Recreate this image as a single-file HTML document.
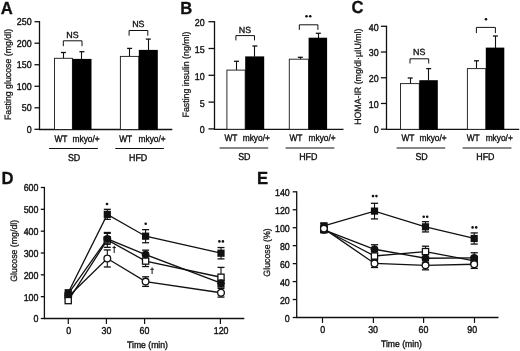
<!DOCTYPE html>
<html><head><meta charset="utf-8"><style>
html,body{margin:0;padding:0;background:#fff;width:520px;height:351px;overflow:hidden}
svg{display:block;will-change:transform}
text{font-family:"Liberation Sans",sans-serif;fill:#111;text-rendering:geometricPrecision}
</style></head><body>
<svg width="520" height="351" viewBox="0 0 520 351">
<rect width="520" height="351" fill="#fff"/>
<line x1="39.5" y1="21.1" x2="39.5" y2="129.9" stroke="#111" stroke-width="1.3"/>
<line x1="34.5" y1="129.3" x2="39.5" y2="129.3" stroke="#111" stroke-width="1.3"/>
<text transform="translate(31.6 133) scale(1 1.12)" text-anchor="end" font-size="8.9" font-weight="normal" stroke="#111" stroke-width="0.35">0</text>
<line x1="34.5" y1="107.78" x2="39.5" y2="107.78" stroke="#111" stroke-width="1.3"/>
<text transform="translate(31.6 111.48) scale(1 1.12)" text-anchor="end" font-size="8.9" font-weight="normal" stroke="#111" stroke-width="0.35">50</text>
<line x1="34.5" y1="86.26" x2="39.5" y2="86.26" stroke="#111" stroke-width="1.3"/>
<text transform="translate(31.6 89.96) scale(1 1.12)" text-anchor="end" font-size="8.9" font-weight="normal" stroke="#111" stroke-width="0.35">100</text>
<line x1="34.5" y1="64.74" x2="39.5" y2="64.74" stroke="#111" stroke-width="1.3"/>
<text transform="translate(31.6 68.44) scale(1 1.12)" text-anchor="end" font-size="8.9" font-weight="normal" stroke="#111" stroke-width="0.35">150</text>
<line x1="34.5" y1="43.22" x2="39.5" y2="43.22" stroke="#111" stroke-width="1.3"/>
<text transform="translate(31.6 46.92) scale(1 1.12)" text-anchor="end" font-size="8.9" font-weight="normal" stroke="#111" stroke-width="0.35">200</text>
<line x1="34.5" y1="21.7" x2="39.5" y2="21.7" stroke="#111" stroke-width="1.3"/>
<text transform="translate(31.6 25.4) scale(1 1.12)" text-anchor="end" font-size="8.9" font-weight="normal" stroke="#111" stroke-width="0.35">250</text>
<line x1="38.9" y1="129.5" x2="172.3" y2="129.5" stroke="#111" stroke-width="1.35"/>
<line x1="63.5" y1="52.5" x2="63.5" y2="58.3" stroke="#111" stroke-width="1.1"/>
<line x1="60.95" y1="52.5" x2="65.95" y2="52.5" stroke="#111" stroke-width="1.3"/>
<rect x="54.5" y="58.3" width="17.9" height="71.2" fill="#fff" stroke="#222" stroke-width="0.95"/>
<line x1="81.5" y1="51.7" x2="81.5" y2="59.2" stroke="#111" stroke-width="1.1"/>
<line x1="79.4" y1="51.7" x2="84.4" y2="51.7" stroke="#111" stroke-width="1.3"/>
<rect x="72.3" y="58.9" width="19.2" height="70.6" fill="#000"/>
<line x1="129.5" y1="48.4" x2="129.5" y2="56.4" stroke="#111" stroke-width="1.1"/>
<line x1="127.1" y1="48.4" x2="132.1" y2="48.4" stroke="#111" stroke-width="1.3"/>
<rect x="120.4" y="56.4" width="18.4" height="73.1" fill="#fff" stroke="#222" stroke-width="0.95"/>
<line x1="148.5" y1="39.1" x2="148.5" y2="50.2" stroke="#111" stroke-width="1.1"/>
<line x1="145.8" y1="39.1" x2="150.8" y2="39.1" stroke="#111" stroke-width="1.3"/>
<rect x="138.8" y="49.9" width="19" height="79.6" fill="#000"/>
<path d="M63.3 46.2V40.8H82V46.2" fill="none" stroke="#111" stroke-width="1"/>
<path d="M129.1 35.7V30.5H147.8V35.7" fill="none" stroke="#111" stroke-width="1"/>
<text transform="translate(72.5 37.8) scale(1 1)" text-anchor="middle" font-size="8.9" font-weight="normal" stroke="#111" stroke-width="0.35">NS</text>
<text transform="translate(138.35 26.8) scale(1 1)" text-anchor="middle" font-size="8.9" font-weight="normal" stroke="#111" stroke-width="0.35">NS</text>
<text transform="translate(60.9 141.6) scale(0.94 1.06)" text-anchor="middle" font-size="8.9" font-weight="normal" stroke="#111" stroke-width="0.35">WT</text>
<text transform="translate(86.1 141.6) scale(0.94 1.06)" text-anchor="middle" font-size="8.9" font-weight="normal" stroke="#111" stroke-width="0.35">mkyo/+</text>
<text transform="translate(125.7 141.6) scale(0.94 1.06)" text-anchor="middle" font-size="8.9" font-weight="normal" stroke="#111" stroke-width="0.35">WT</text>
<text transform="translate(152.1 141.6) scale(0.94 1.06)" text-anchor="middle" font-size="8.9" font-weight="normal" stroke="#111" stroke-width="0.35">mkyo/+</text>
<line x1="49.1" y1="148.5" x2="97.9" y2="148.5" stroke="#111" stroke-width="1.05"/>
<line x1="115.3" y1="148.5" x2="163.9" y2="148.5" stroke="#111" stroke-width="1.05"/>
<text transform="translate(74.05 161) scale(1 1.12)" text-anchor="middle" font-size="8.9" font-weight="normal" stroke="#111" stroke-width="0.35">SD</text>
<text transform="translate(138.1 161) scale(1 1.12)" text-anchor="middle" font-size="8.9" font-weight="normal" stroke="#111" stroke-width="0.35">HFD</text>
<text transform="translate(10.7 74.5) rotate(-90) scale(0.955 1)" text-anchor="middle" font-size="9.2" stroke="#111" stroke-width="0.25">Fasting glucose (mg/dl)</text>
<text transform="translate(0.8 14) scale(1.04 1.09)" text-anchor="start" font-size="16" font-weight="bold" stroke="#111" stroke-width="0.3">A</text>
<line x1="214.5" y1="21.1" x2="214.5" y2="129.5" stroke="#111" stroke-width="1.3"/>
<line x1="208.5" y1="128.9" x2="214.5" y2="128.9" stroke="#111" stroke-width="1.3"/>
<text transform="translate(204.6 133.3) scale(1 1.12)" text-anchor="end" font-size="8.9" font-weight="normal" stroke="#111" stroke-width="0.35">0</text>
<line x1="208.5" y1="102.1" x2="214.5" y2="102.1" stroke="#111" stroke-width="1.3"/>
<text transform="translate(204.6 106.5) scale(1 1.12)" text-anchor="end" font-size="8.9" font-weight="normal" stroke="#111" stroke-width="0.35">5</text>
<line x1="208.5" y1="75.3" x2="214.5" y2="75.3" stroke="#111" stroke-width="1.3"/>
<text transform="translate(204.6 79.7) scale(1 1.12)" text-anchor="end" font-size="8.9" font-weight="normal" stroke="#111" stroke-width="0.35">10</text>
<line x1="208.5" y1="48.5" x2="214.5" y2="48.5" stroke="#111" stroke-width="1.3"/>
<text transform="translate(204.6 52.9) scale(1 1.12)" text-anchor="end" font-size="8.9" font-weight="normal" stroke="#111" stroke-width="0.35">15</text>
<line x1="208.5" y1="21.7" x2="214.5" y2="21.7" stroke="#111" stroke-width="1.3"/>
<text transform="translate(204.6 26.1) scale(1 1.12)" text-anchor="end" font-size="8.9" font-weight="normal" stroke="#111" stroke-width="0.35">20</text>
<line x1="213.9" y1="129.3" x2="343.5" y2="129.3" stroke="#111" stroke-width="1.35"/>
<line x1="236.5" y1="61.3" x2="236.5" y2="70.1" stroke="#111" stroke-width="1.1"/>
<line x1="234" y1="61.3" x2="239" y2="61.3" stroke="#111" stroke-width="1.3"/>
<rect x="226.9" y="70.1" width="18.3" height="59.2" fill="#fff" stroke="#222" stroke-width="0.95"/>
<line x1="254.5" y1="46" x2="254.5" y2="56.7" stroke="#111" stroke-width="1.1"/>
<line x1="252.4" y1="46" x2="257.4" y2="46" stroke="#111" stroke-width="1.3"/>
<rect x="245.2" y="56.4" width="19" height="72.9" fill="#000"/>
<line x1="300.5" y1="57.3" x2="300.5" y2="59.2" stroke="#111" stroke-width="1.1"/>
<line x1="297.8" y1="57.3" x2="302.8" y2="57.3" stroke="#111" stroke-width="1.3"/>
<rect x="289.3" y="59.2" width="19.3" height="70.1" fill="#fff" stroke="#222" stroke-width="0.95"/>
<line x1="318.5" y1="33.3" x2="318.5" y2="38" stroke="#111" stroke-width="1.1"/>
<line x1="315.8" y1="33.3" x2="320.8" y2="33.3" stroke="#111" stroke-width="1.3"/>
<rect x="308.6" y="37.7" width="18.5" height="91.6" fill="#000"/>
<path d="M235.9 40.4V35.6H254.5V40.4" fill="none" stroke="#111" stroke-width="1"/>
<path d="M299.3 29.9V24.8H317.9V29.9" fill="none" stroke="#111" stroke-width="1"/>
<text transform="translate(245 32.5) scale(1 1)" text-anchor="middle" font-size="8.9" font-weight="normal" stroke="#111" stroke-width="0.35">NS</text>
<circle cx="306.5" cy="16.2" r="1.3" fill="#111"/>
<circle cx="310.2" cy="16.2" r="1.3" fill="#111"/>
<text transform="translate(230.9 140.9) scale(0.94 1.06)" text-anchor="middle" font-size="8.9" font-weight="normal" stroke="#111" stroke-width="0.35">WT</text>
<text transform="translate(256.25 140.9) scale(0.94 1.06)" text-anchor="middle" font-size="8.9" font-weight="normal" stroke="#111" stroke-width="0.35">mkyo/+</text>
<text transform="translate(295.9 140.9) scale(0.94 1.06)" text-anchor="middle" font-size="8.9" font-weight="normal" stroke="#111" stroke-width="0.35">WT</text>
<text transform="translate(322.1 140.9) scale(0.94 1.06)" text-anchor="middle" font-size="8.9" font-weight="normal" stroke="#111" stroke-width="0.35">mkyo/+</text>
<line x1="219.6" y1="148" x2="268.2" y2="148" stroke="#111" stroke-width="1.05"/>
<line x1="285.6" y1="148" x2="334.4" y2="148" stroke="#111" stroke-width="1.05"/>
<text transform="translate(244.3 159.9) scale(1 1.12)" text-anchor="middle" font-size="8.9" font-weight="normal" stroke="#111" stroke-width="0.35">SD</text>
<text transform="translate(308.3 159.9) scale(1 1.12)" text-anchor="middle" font-size="8.9" font-weight="normal" stroke="#111" stroke-width="0.35">HFD</text>
<text transform="translate(189.2 74.5) rotate(-90) scale(0.955 1)" text-anchor="middle" font-size="9.2" stroke="#111" stroke-width="0.25">Fasting insulin (ng/ml)</text>
<text transform="translate(180.2 14) scale(1.04 1.09)" text-anchor="start" font-size="16" font-weight="bold" stroke="#111" stroke-width="0.3">B</text>
<line x1="386.5" y1="25.7" x2="386.5" y2="129.8" stroke="#111" stroke-width="1.3"/>
<line x1="380.9" y1="129.2" x2="386.5" y2="129.2" stroke="#111" stroke-width="1.3"/>
<text transform="translate(378.6 133.4) scale(1 1.12)" text-anchor="end" font-size="8.9" font-weight="normal" stroke="#111" stroke-width="0.35">0</text>
<line x1="380.9" y1="103.47" x2="386.5" y2="103.47" stroke="#111" stroke-width="1.3"/>
<text transform="translate(378.6 107.67) scale(1 1.12)" text-anchor="end" font-size="8.9" font-weight="normal" stroke="#111" stroke-width="0.35">10</text>
<line x1="380.9" y1="77.75" x2="386.5" y2="77.75" stroke="#111" stroke-width="1.3"/>
<text transform="translate(378.6 81.95) scale(1 1.12)" text-anchor="end" font-size="8.9" font-weight="normal" stroke="#111" stroke-width="0.35">20</text>
<line x1="380.9" y1="52.02" x2="386.5" y2="52.02" stroke="#111" stroke-width="1.3"/>
<text transform="translate(378.6 56.22) scale(1 1.12)" text-anchor="end" font-size="8.9" font-weight="normal" stroke="#111" stroke-width="0.35">30</text>
<line x1="380.9" y1="26.3" x2="386.5" y2="26.3" stroke="#111" stroke-width="1.3"/>
<text transform="translate(378.6 30.5) scale(1 1.12)" text-anchor="end" font-size="8.9" font-weight="normal" stroke="#111" stroke-width="0.35">40</text>
<line x1="385.9" y1="129.35" x2="519.2" y2="129.35" stroke="#111" stroke-width="1.35"/>
<line x1="410.5" y1="78" x2="410.5" y2="83.6" stroke="#111" stroke-width="1.1"/>
<line x1="407.7" y1="78" x2="412.7" y2="78" stroke="#111" stroke-width="1.3"/>
<rect x="400.5" y="83.6" width="18.8" height="45.75" fill="#fff" stroke="#222" stroke-width="0.95"/>
<line x1="428.5" y1="68.6" x2="428.5" y2="80.5" stroke="#111" stroke-width="1.1"/>
<line x1="426.2" y1="68.6" x2="431.2" y2="68.6" stroke="#111" stroke-width="1.3"/>
<rect x="419.3" y="80.2" width="18.5" height="49.15" fill="#000"/>
<line x1="476.5" y1="60.8" x2="476.5" y2="68.6" stroke="#111" stroke-width="1.1"/>
<line x1="474" y1="60.8" x2="479" y2="60.8" stroke="#111" stroke-width="1.3"/>
<rect x="467.4" y="68.6" width="18.4" height="60.75" fill="#fff" stroke="#222" stroke-width="0.95"/>
<line x1="495.5" y1="36" x2="495.5" y2="47.9" stroke="#111" stroke-width="1.1"/>
<line x1="492.9" y1="36" x2="497.9" y2="36" stroke="#111" stroke-width="1.3"/>
<rect x="485.8" y="47.6" width="18.5" height="81.75" fill="#000"/>
<path d="M410 63.5V58.8H428.7V63.5" fill="none" stroke="#111" stroke-width="1"/>
<path d="M476.4 33.1V27.4H495.4V33.1" fill="none" stroke="#111" stroke-width="1"/>
<text transform="translate(419.2 54.9) scale(1 1)" text-anchor="middle" font-size="8.9" font-weight="normal" stroke="#111" stroke-width="0.35">NS</text>
<circle cx="486" cy="19.2" r="1.3" fill="#111"/>
<text transform="translate(407.9 141) scale(0.94 1.06)" text-anchor="middle" font-size="8.9" font-weight="normal" stroke="#111" stroke-width="0.35">WT</text>
<text transform="translate(433.1 141) scale(0.94 1.06)" text-anchor="middle" font-size="8.9" font-weight="normal" stroke="#111" stroke-width="0.35">mkyo/+</text>
<text transform="translate(473.2 141) scale(0.94 1.06)" text-anchor="middle" font-size="8.9" font-weight="normal" stroke="#111" stroke-width="0.35">WT</text>
<text transform="translate(499.2 141) scale(0.94 1.06)" text-anchor="middle" font-size="8.9" font-weight="normal" stroke="#111" stroke-width="0.35">mkyo/+</text>
<line x1="396.6" y1="148" x2="445.2" y2="148" stroke="#111" stroke-width="1.05"/>
<line x1="462.6" y1="148" x2="511.4" y2="148" stroke="#111" stroke-width="1.05"/>
<text transform="translate(421.6 159.9) scale(1 1.12)" text-anchor="middle" font-size="8.9" font-weight="normal" stroke="#111" stroke-width="0.35">SD</text>
<text transform="translate(485.4 159.9) scale(1 1.12)" text-anchor="middle" font-size="8.9" font-weight="normal" stroke="#111" stroke-width="0.35">HFD</text>
<text transform="translate(360.8 76.7) rotate(-90) scale(0.955 1)" text-anchor="middle" font-size="9.2" stroke="#111" stroke-width="0.25">HOMA-IR (mg/dl·µIU/ml)</text>
<text transform="translate(351.5 13.3) scale(1.04 1.09)" text-anchor="start" font-size="16" font-weight="bold" stroke="#111" stroke-width="0.3">C</text>
<line x1="44.4" y1="186.9" x2="44.4" y2="319.1" stroke="#111" stroke-width="1.3"/>
<line x1="40.8" y1="318.5" x2="44.4" y2="318.5" stroke="#111" stroke-width="1.3"/>
<text transform="translate(38.5 322.4) scale(1 1.12)" text-anchor="end" font-size="8.9" font-weight="normal" stroke="#111" stroke-width="0.35">0</text>
<line x1="40.8" y1="296.67" x2="44.4" y2="296.67" stroke="#111" stroke-width="1.3"/>
<text transform="translate(38.5 300.57) scale(1 1.12)" text-anchor="end" font-size="8.9" font-weight="normal" stroke="#111" stroke-width="0.35">100</text>
<line x1="40.8" y1="274.83" x2="44.4" y2="274.83" stroke="#111" stroke-width="1.3"/>
<text transform="translate(38.5 278.73) scale(1 1.12)" text-anchor="end" font-size="8.9" font-weight="normal" stroke="#111" stroke-width="0.35">200</text>
<line x1="40.8" y1="253" x2="44.4" y2="253" stroke="#111" stroke-width="1.3"/>
<text transform="translate(38.5 256.9) scale(1 1.12)" text-anchor="end" font-size="8.9" font-weight="normal" stroke="#111" stroke-width="0.35">300</text>
<line x1="40.8" y1="231.17" x2="44.4" y2="231.17" stroke="#111" stroke-width="1.3"/>
<text transform="translate(38.5 235.07) scale(1 1.12)" text-anchor="end" font-size="8.9" font-weight="normal" stroke="#111" stroke-width="0.35">400</text>
<line x1="40.8" y1="209.33" x2="44.4" y2="209.33" stroke="#111" stroke-width="1.3"/>
<text transform="translate(38.5 213.23) scale(1 1.12)" text-anchor="end" font-size="8.9" font-weight="normal" stroke="#111" stroke-width="0.35">500</text>
<line x1="40.8" y1="187.5" x2="44.4" y2="187.5" stroke="#111" stroke-width="1.3"/>
<text transform="translate(38.5 191.4) scale(1 1.12)" text-anchor="end" font-size="8.9" font-weight="normal" stroke="#111" stroke-width="0.35">600</text>
<line x1="43.8" y1="318.5" x2="244.3" y2="318.5" stroke="#111" stroke-width="1.3"/>
<line x1="68.3" y1="318.5" x2="68.3" y2="324.1" stroke="#111" stroke-width="1.2"/>
<text transform="translate(68.6 334.2) scale(1 1.12)" text-anchor="middle" font-size="8.9" font-weight="normal" stroke="#111" stroke-width="0.35">0</text>
<line x1="106.4" y1="318.5" x2="106.4" y2="324.1" stroke="#111" stroke-width="1.2"/>
<text transform="translate(106.5 334.2) scale(1 1.12)" text-anchor="middle" font-size="8.9" font-weight="normal" stroke="#111" stroke-width="0.35">30</text>
<line x1="144.6" y1="318.5" x2="144.6" y2="324.1" stroke="#111" stroke-width="1.2"/>
<text transform="translate(144.5 334.2) scale(1 1.12)" text-anchor="middle" font-size="8.9" font-weight="normal" stroke="#111" stroke-width="0.35">60</text>
<line x1="220.4" y1="318.5" x2="220.4" y2="324.1" stroke="#111" stroke-width="1.2"/>
<text transform="translate(221.1 334.2) scale(1 1.12)" text-anchor="middle" font-size="8.9" font-weight="normal" stroke="#111" stroke-width="0.35">120</text>
<text transform="translate(147.5 348) scale(0.97 1.06)" text-anchor="middle" font-size="8.9" font-weight="normal" stroke="#111" stroke-width="0.35">Time (min)</text>
<text transform="translate(16.9 250.8) rotate(-90) scale(0.955 1)" text-anchor="middle" font-size="9.2" stroke="#111" stroke-width="0.25">Glucose (mg/dl)</text>
<text transform="translate(1.6 183.8) scale(1.04 1.09)" text-anchor="start" font-size="16" font-weight="bold" stroke="#111" stroke-width="0.3">D</text>
<polyline points="68.2,296.67 107.3,258.46 145.6,281.6 221,292.74" fill="none" stroke="#111" stroke-width="1.3" stroke-linejoin="miter"/>
<polyline points="68.2,300.6 107.3,239.9 145.6,261.08 221,277.24" fill="none" stroke="#111" stroke-width="1.3" stroke-linejoin="miter"/>
<polyline points="68.2,293.83 107.3,238.81 145.6,254.53 221,283.13" fill="none" stroke="#111" stroke-width="1.3" stroke-linejoin="miter"/>
<polyline points="68.2,292.74 107.3,214.36 145.6,236.19 221,253.22" fill="none" stroke="#111" stroke-width="1.3" stroke-linejoin="miter"/>
<line x1="107.3" y1="249.94" x2="107.3" y2="266.97" stroke="#111" stroke-width="1.1"/>
<line x1="103.8" y1="249.94" x2="110.8" y2="249.94" stroke="#111" stroke-width="1.3"/>
<line x1="103.8" y1="266.97" x2="110.8" y2="266.97" stroke="#111" stroke-width="1.3"/>
<line x1="145.6" y1="276.8" x2="145.6" y2="286.4" stroke="#111" stroke-width="1.1"/>
<line x1="142.1" y1="276.8" x2="149.1" y2="276.8" stroke="#111" stroke-width="1.3"/>
<line x1="142.1" y1="286.4" x2="149.1" y2="286.4" stroke="#111" stroke-width="1.3"/>
<line x1="221" y1="288.37" x2="221" y2="297.1" stroke="#111" stroke-width="1.1"/>
<line x1="217.5" y1="288.37" x2="224.5" y2="288.37" stroke="#111" stroke-width="1.3"/>
<line x1="217.5" y1="297.1" x2="224.5" y2="297.1" stroke="#111" stroke-width="1.3"/>
<line x1="107.3" y1="232.48" x2="107.3" y2="247.32" stroke="#111" stroke-width="1.1"/>
<line x1="103.8" y1="232.48" x2="110.8" y2="232.48" stroke="#111" stroke-width="1.3"/>
<line x1="103.8" y1="247.32" x2="110.8" y2="247.32" stroke="#111" stroke-width="1.3"/>
<line x1="145.6" y1="255.62" x2="145.6" y2="266.54" stroke="#111" stroke-width="1.1"/>
<line x1="142.1" y1="255.62" x2="149.1" y2="255.62" stroke="#111" stroke-width="1.3"/>
<line x1="142.1" y1="266.54" x2="149.1" y2="266.54" stroke="#111" stroke-width="1.3"/>
<line x1="221" y1="267.41" x2="221" y2="287.06" stroke="#111" stroke-width="1.1"/>
<line x1="217.5" y1="267.41" x2="224.5" y2="267.41" stroke="#111" stroke-width="1.3"/>
<line x1="217.5" y1="287.06" x2="224.5" y2="287.06" stroke="#111" stroke-width="1.3"/>
<line x1="107.3" y1="233.35" x2="107.3" y2="244.27" stroke="#111" stroke-width="1.1"/>
<line x1="103.8" y1="233.35" x2="110.8" y2="233.35" stroke="#111" stroke-width="1.3"/>
<line x1="103.8" y1="244.27" x2="110.8" y2="244.27" stroke="#111" stroke-width="1.3"/>
<line x1="145.6" y1="250.16" x2="145.6" y2="258.89" stroke="#111" stroke-width="1.1"/>
<line x1="142.1" y1="250.16" x2="149.1" y2="250.16" stroke="#111" stroke-width="1.3"/>
<line x1="142.1" y1="258.89" x2="149.1" y2="258.89" stroke="#111" stroke-width="1.3"/>
<line x1="221" y1="280.07" x2="221" y2="286.19" stroke="#111" stroke-width="1.1"/>
<line x1="217.5" y1="280.07" x2="224.5" y2="280.07" stroke="#111" stroke-width="1.3"/>
<line x1="217.5" y1="286.19" x2="224.5" y2="286.19" stroke="#111" stroke-width="1.3"/>
<line x1="107.3" y1="209.33" x2="107.3" y2="219.38" stroke="#111" stroke-width="1.1"/>
<line x1="103.8" y1="209.33" x2="110.8" y2="209.33" stroke="#111" stroke-width="1.3"/>
<line x1="103.8" y1="219.38" x2="110.8" y2="219.38" stroke="#111" stroke-width="1.3"/>
<line x1="145.6" y1="229.64" x2="145.6" y2="242.74" stroke="#111" stroke-width="1.1"/>
<line x1="142.1" y1="229.64" x2="149.1" y2="229.64" stroke="#111" stroke-width="1.3"/>
<line x1="142.1" y1="242.74" x2="149.1" y2="242.74" stroke="#111" stroke-width="1.3"/>
<line x1="221" y1="247.54" x2="221" y2="258.89" stroke="#111" stroke-width="1.1"/>
<line x1="217.5" y1="247.54" x2="224.5" y2="247.54" stroke="#111" stroke-width="1.3"/>
<line x1="217.5" y1="258.89" x2="224.5" y2="258.89" stroke="#111" stroke-width="1.3"/>
<circle cx="68.2" cy="296.67" r="3.35" fill="#fff" stroke="#111" stroke-width="1.3"/>
<circle cx="107.3" cy="258.46" r="3.35" fill="#fff" stroke="#111" stroke-width="1.3"/>
<circle cx="145.6" cy="281.6" r="3.35" fill="#fff" stroke="#111" stroke-width="1.3"/>
<circle cx="221" cy="292.74" r="3.35" fill="#fff" stroke="#111" stroke-width="1.3"/>
<rect x="65.1" y="297.5" width="6.2" height="6.2" fill="#fff" stroke="#111" stroke-width="1.3"/>
<rect x="104.2" y="236.8" width="6.2" height="6.2" fill="#fff" stroke="#111" stroke-width="1.3"/>
<rect x="142.5" y="257.98" width="6.2" height="6.2" fill="#fff" stroke="#111" stroke-width="1.3"/>
<rect x="217.9" y="274.13" width="6.2" height="6.2" fill="#fff" stroke="#111" stroke-width="1.3"/>
<circle cx="68.2" cy="293.83" r="3.85" fill="#111" stroke="#111" stroke-width="0.1"/>
<circle cx="107.3" cy="238.81" r="3.85" fill="#111" stroke="#111" stroke-width="0.1"/>
<circle cx="145.6" cy="254.53" r="3.85" fill="#111" stroke="#111" stroke-width="0.1"/>
<circle cx="221" cy="283.13" r="3.85" fill="#111" stroke="#111" stroke-width="0.1"/>
<rect x="64.6" y="289.14" width="7.2" height="7.2" fill="#111"/>
<rect x="103.7" y="210.76" width="7.2" height="7.2" fill="#111"/>
<rect x="142" y="232.59" width="7.2" height="7.2" fill="#111"/>
<rect x="217.4" y="249.62" width="7.2" height="7.2" fill="#111"/>
<circle cx="107" cy="204" r="1.3" fill="#111"/>
<circle cx="145.7" cy="223.7" r="1.3" fill="#111"/>
<circle cx="219.4" cy="241.4" r="1.3" fill="#111"/>
<circle cx="222.9" cy="241.4" r="1.3" fill="#111"/>
<line x1="114.2" y1="245.8" x2="114.2" y2="253" stroke="#111" stroke-width="1"/>
<line x1="112.5" y1="247.6" x2="115.9" y2="247.6" stroke="#111" stroke-width="1"/>
<line x1="152.1" y1="267.4" x2="152.1" y2="274" stroke="#111" stroke-width="1"/>
<line x1="150.4" y1="269.3" x2="153.8" y2="269.3" stroke="#111" stroke-width="1"/>
<line x1="296.7" y1="191.2" x2="296.7" y2="318.1" stroke="#111" stroke-width="1.3"/>
<line x1="292.7" y1="317.5" x2="296.7" y2="317.5" stroke="#111" stroke-width="1.3"/>
<text transform="translate(289.8 321.7) scale(1 1.12)" text-anchor="end" font-size="8.9" font-weight="normal" stroke="#111" stroke-width="0.35">0</text>
<line x1="292.7" y1="299.54" x2="296.7" y2="299.54" stroke="#111" stroke-width="1.3"/>
<text transform="translate(289.8 303.74) scale(1 1.12)" text-anchor="end" font-size="8.9" font-weight="normal" stroke="#111" stroke-width="0.35">20</text>
<line x1="292.7" y1="281.59" x2="296.7" y2="281.59" stroke="#111" stroke-width="1.3"/>
<text transform="translate(289.8 285.79) scale(1 1.12)" text-anchor="end" font-size="8.9" font-weight="normal" stroke="#111" stroke-width="0.35">40</text>
<line x1="292.7" y1="263.63" x2="296.7" y2="263.63" stroke="#111" stroke-width="1.3"/>
<text transform="translate(289.8 267.83) scale(1 1.12)" text-anchor="end" font-size="8.9" font-weight="normal" stroke="#111" stroke-width="0.35">60</text>
<line x1="292.7" y1="245.67" x2="296.7" y2="245.67" stroke="#111" stroke-width="1.3"/>
<text transform="translate(289.8 249.87) scale(1 1.12)" text-anchor="end" font-size="8.9" font-weight="normal" stroke="#111" stroke-width="0.35">80</text>
<line x1="292.7" y1="227.71" x2="296.7" y2="227.71" stroke="#111" stroke-width="1.3"/>
<text transform="translate(289.8 231.91) scale(1 1.12)" text-anchor="end" font-size="8.9" font-weight="normal" stroke="#111" stroke-width="0.35">100</text>
<line x1="292.7" y1="209.76" x2="296.7" y2="209.76" stroke="#111" stroke-width="1.3"/>
<text transform="translate(289.8 213.96) scale(1 1.12)" text-anchor="end" font-size="8.9" font-weight="normal" stroke="#111" stroke-width="0.35">120</text>
<line x1="292.7" y1="191.8" x2="296.7" y2="191.8" stroke="#111" stroke-width="1.3"/>
<text transform="translate(289.8 196) scale(1 1.12)" text-anchor="end" font-size="8.9" font-weight="normal" stroke="#111" stroke-width="0.35">140</text>
<line x1="296.1" y1="317.5" x2="498.5" y2="317.5" stroke="#111" stroke-width="1.3"/>
<line x1="322.5" y1="317.5" x2="322.5" y2="322.9" stroke="#111" stroke-width="1.2"/>
<text transform="translate(322.7 332.9) scale(1 1.12)" text-anchor="middle" font-size="8.9" font-weight="normal" stroke="#111" stroke-width="0.35">0</text>
<line x1="373.4" y1="317.5" x2="373.4" y2="322.9" stroke="#111" stroke-width="1.2"/>
<text transform="translate(373.1 332.9) scale(1 1.12)" text-anchor="middle" font-size="8.9" font-weight="normal" stroke="#111" stroke-width="0.35">30</text>
<line x1="423.6" y1="317.5" x2="423.6" y2="322.9" stroke="#111" stroke-width="1.2"/>
<text transform="translate(423.5 332.9) scale(1 1.12)" text-anchor="middle" font-size="8.9" font-weight="normal" stroke="#111" stroke-width="0.35">60</text>
<line x1="474.5" y1="317.5" x2="474.5" y2="322.9" stroke="#111" stroke-width="1.2"/>
<text transform="translate(472.2 332.9) scale(1 1.12)" text-anchor="middle" font-size="8.9" font-weight="normal" stroke="#111" stroke-width="0.35">90</text>
<text transform="translate(401.4 347) scale(0.97 1.06)" text-anchor="middle" font-size="8.9" font-weight="normal" stroke="#111" stroke-width="0.35">Time (min)</text>
<text transform="translate(269.8 252.5) rotate(-90) scale(0.955 1)" text-anchor="middle" font-size="9.2" stroke="#111" stroke-width="0.25">Glucose (%)</text>
<text transform="translate(257 183.8) scale(1.04 1.09)" text-anchor="start" font-size="16" font-weight="bold" stroke="#111" stroke-width="0.3">E</text>
<polyline points="323.9,229.51 374.5,256 425.5,251.6 474.2,260.94" fill="none" stroke="#111" stroke-width="1.3" stroke-linejoin="miter"/>
<polyline points="323.9,229.96 374.5,249.26 425.5,258.24 474.2,257.88" fill="none" stroke="#111" stroke-width="1.3" stroke-linejoin="miter"/>
<polyline points="323.9,225.92 374.5,211.1 425.5,226.82 474.2,238.49" fill="none" stroke="#111" stroke-width="1.3" stroke-linejoin="miter"/>
<polyline points="323.9,228.61 374.5,263.45 425.5,265.33 474.2,264.26" fill="none" stroke="#111" stroke-width="1.3" stroke-linejoin="miter"/>
<line x1="323.9" y1="226.82" x2="323.9" y2="232.2" stroke="#111" stroke-width="1.1"/>
<line x1="320.3" y1="226.82" x2="327.5" y2="226.82" stroke="#111" stroke-width="1.3"/>
<line x1="320.3" y1="232.2" x2="327.5" y2="232.2" stroke="#111" stroke-width="1.3"/>
<line x1="374.5" y1="251.51" x2="374.5" y2="260.49" stroke="#111" stroke-width="1.1"/>
<line x1="370.9" y1="251.51" x2="378.1" y2="251.51" stroke="#111" stroke-width="1.3"/>
<line x1="370.9" y1="260.49" x2="378.1" y2="260.49" stroke="#111" stroke-width="1.3"/>
<line x1="425.5" y1="246.21" x2="425.5" y2="256.98" stroke="#111" stroke-width="1.1"/>
<line x1="421.9" y1="246.21" x2="429.1" y2="246.21" stroke="#111" stroke-width="1.3"/>
<line x1="421.9" y1="256.98" x2="429.1" y2="256.98" stroke="#111" stroke-width="1.3"/>
<line x1="474.2" y1="256.45" x2="474.2" y2="265.42" stroke="#111" stroke-width="1.1"/>
<line x1="470.6" y1="256.45" x2="477.8" y2="256.45" stroke="#111" stroke-width="1.3"/>
<line x1="470.6" y1="265.42" x2="477.8" y2="265.42" stroke="#111" stroke-width="1.3"/>
<line x1="323.9" y1="227.27" x2="323.9" y2="232.65" stroke="#111" stroke-width="1.1"/>
<line x1="320.3" y1="227.27" x2="327.5" y2="227.27" stroke="#111" stroke-width="1.3"/>
<line x1="320.3" y1="232.65" x2="327.5" y2="232.65" stroke="#111" stroke-width="1.3"/>
<line x1="374.5" y1="244.77" x2="374.5" y2="253.75" stroke="#111" stroke-width="1.1"/>
<line x1="370.9" y1="244.77" x2="378.1" y2="244.77" stroke="#111" stroke-width="1.3"/>
<line x1="370.9" y1="253.75" x2="378.1" y2="253.75" stroke="#111" stroke-width="1.3"/>
<line x1="425.5" y1="253.75" x2="425.5" y2="262.73" stroke="#111" stroke-width="1.1"/>
<line x1="421.9" y1="253.75" x2="429.1" y2="253.75" stroke="#111" stroke-width="1.3"/>
<line x1="421.9" y1="262.73" x2="429.1" y2="262.73" stroke="#111" stroke-width="1.3"/>
<line x1="474.2" y1="252.76" x2="474.2" y2="263" stroke="#111" stroke-width="1.1"/>
<line x1="470.6" y1="252.76" x2="477.8" y2="252.76" stroke="#111" stroke-width="1.3"/>
<line x1="470.6" y1="263" x2="477.8" y2="263" stroke="#111" stroke-width="1.3"/>
<line x1="323.9" y1="223.22" x2="323.9" y2="228.61" stroke="#111" stroke-width="1.1"/>
<line x1="320.3" y1="223.22" x2="327.5" y2="223.22" stroke="#111" stroke-width="1.3"/>
<line x1="320.3" y1="228.61" x2="327.5" y2="228.61" stroke="#111" stroke-width="1.3"/>
<line x1="374.5" y1="203.29" x2="374.5" y2="218.92" stroke="#111" stroke-width="1.1"/>
<line x1="370.9" y1="203.29" x2="378.1" y2="203.29" stroke="#111" stroke-width="1.3"/>
<line x1="370.9" y1="218.92" x2="378.1" y2="218.92" stroke="#111" stroke-width="1.3"/>
<line x1="425.5" y1="221.7" x2="425.5" y2="231.93" stroke="#111" stroke-width="1.1"/>
<line x1="421.9" y1="221.7" x2="429.1" y2="221.7" stroke="#111" stroke-width="1.3"/>
<line x1="421.9" y1="231.93" x2="429.1" y2="231.93" stroke="#111" stroke-width="1.3"/>
<line x1="474.2" y1="232.92" x2="474.2" y2="244.06" stroke="#111" stroke-width="1.1"/>
<line x1="470.6" y1="232.92" x2="477.8" y2="232.92" stroke="#111" stroke-width="1.3"/>
<line x1="470.6" y1="244.06" x2="477.8" y2="244.06" stroke="#111" stroke-width="1.3"/>
<line x1="323.9" y1="225.92" x2="323.9" y2="231.31" stroke="#111" stroke-width="1.1"/>
<line x1="320.3" y1="225.92" x2="327.5" y2="225.92" stroke="#111" stroke-width="1.3"/>
<line x1="320.3" y1="231.31" x2="327.5" y2="231.31" stroke="#111" stroke-width="1.3"/>
<line x1="374.5" y1="259.41" x2="374.5" y2="267.49" stroke="#111" stroke-width="1.1"/>
<line x1="370.9" y1="259.41" x2="378.1" y2="259.41" stroke="#111" stroke-width="1.3"/>
<line x1="370.9" y1="267.49" x2="378.1" y2="267.49" stroke="#111" stroke-width="1.3"/>
<line x1="425.5" y1="260.85" x2="425.5" y2="269.82" stroke="#111" stroke-width="1.1"/>
<line x1="421.9" y1="260.85" x2="429.1" y2="260.85" stroke="#111" stroke-width="1.3"/>
<line x1="421.9" y1="269.82" x2="429.1" y2="269.82" stroke="#111" stroke-width="1.3"/>
<line x1="474.2" y1="260.13" x2="474.2" y2="268.39" stroke="#111" stroke-width="1.1"/>
<line x1="470.6" y1="260.13" x2="477.8" y2="260.13" stroke="#111" stroke-width="1.3"/>
<line x1="470.6" y1="268.39" x2="477.8" y2="268.39" stroke="#111" stroke-width="1.3"/>
<rect x="320.8" y="226.41" width="6.2" height="6.2" fill="#fff" stroke="#111" stroke-width="1.3"/>
<rect x="371.4" y="252.9" width="6.2" height="6.2" fill="#fff" stroke="#111" stroke-width="1.3"/>
<rect x="422.4" y="248.5" width="6.2" height="6.2" fill="#fff" stroke="#111" stroke-width="1.3"/>
<rect x="471.1" y="257.83" width="6.2" height="6.2" fill="#fff" stroke="#111" stroke-width="1.3"/>
<circle cx="323.9" cy="229.96" r="3.85" fill="#111" stroke="#111" stroke-width="0.1"/>
<circle cx="374.5" cy="249.26" r="3.85" fill="#111" stroke="#111" stroke-width="0.1"/>
<circle cx="425.5" cy="258.24" r="3.85" fill="#111" stroke="#111" stroke-width="0.1"/>
<circle cx="474.2" cy="257.88" r="3.85" fill="#111" stroke="#111" stroke-width="0.1"/>
<rect x="320.3" y="222.32" width="7.2" height="7.2" fill="#111"/>
<rect x="370.9" y="207.5" width="7.2" height="7.2" fill="#111"/>
<rect x="421.9" y="223.22" width="7.2" height="7.2" fill="#111"/>
<rect x="470.6" y="234.89" width="7.2" height="7.2" fill="#111"/>
<circle cx="323.9" cy="228.61" r="3.35" fill="#fff" stroke="#111" stroke-width="1.3"/>
<circle cx="374.5" cy="263.45" r="3.35" fill="#fff" stroke="#111" stroke-width="1.3"/>
<circle cx="425.5" cy="265.33" r="3.35" fill="#fff" stroke="#111" stroke-width="1.3"/>
<circle cx="474.2" cy="264.26" r="3.35" fill="#fff" stroke="#111" stroke-width="1.3"/>
<circle cx="373" cy="196.1" r="1.3" fill="#111"/>
<circle cx="376.4" cy="196.1" r="1.3" fill="#111"/>
<circle cx="423.7" cy="216.7" r="1.3" fill="#111"/>
<circle cx="427.2" cy="216.7" r="1.3" fill="#111"/>
<circle cx="472.6" cy="227.4" r="1.3" fill="#111"/>
<circle cx="476.2" cy="227.4" r="1.3" fill="#111"/>
</svg>
</body></html>
